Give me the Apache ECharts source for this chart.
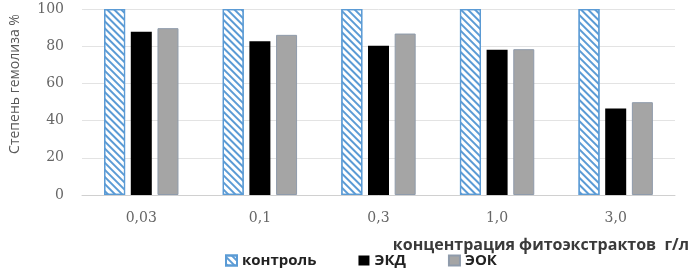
<!DOCTYPE html>
<html><head><meta charset="utf-8">
<script src="https://cdn.jsdelivr.net/npm/echarts@6/dist/echarts.min.js"></script>
<style>html,body{margin:0;padding:0;background:#fff}#c{width:692px;height:269px}</style>
</head><body><div id="c"></div>
<script>
const categories = ['0,03', '0,1', '0,3', '1,0', '3,0'];
const controlValues = [100, 100, 100, 100, 100];
const ekdValues = [87.8, 82.6, 80.2, 78.1, 46.5];
const eokValues = [89.7, 86.1, 86.8, 78.4, 49.9];
const yTicks = [0, 20, 40, 60, 80, 100];
const seriesNames = ['контроль', 'ЭКД', 'ЭОК'];

const chart = echarts.init(document.getElementById('c'), null, {renderer: 'canvas'});
chart.setOption({
  animation: false,
  grid: {left: 81, right: 17, top: 9, bottom: 74},
  legend: {
    data: seriesNames,
    left: 225, top: 253, padding: 0,
    icon: 'rect',
    itemWidth: 11, itemHeight: 10, itemGap: 42,
    textStyle: {fontFamily: 'Open Sans', fontWeight: 'bold', fontSize: 15, color: '#222'}
  },
  xAxis: {
    type: 'category', data: categories,
    name: 'концентрация фитоэкстрактов  г/л',
    nameLocation: 'end',
    nameGap: 14,
    nameTextStyle: {fontFamily: 'Open Sans', fontWeight: 'bold', fontSize: 16, color: '#3a3a3a',
      align: 'right', verticalAlign: 'top', padding: [42, 0, 0, 0]},
    axisTick: {show: false},
    axisLine: {lineStyle: {color: '#d0d0d0'}},
    axisLabel: {fontFamily: 'DejaVu Serif', fontSize: 14, color: '#666666', margin: 16}
  },
  yAxis: {
    type: 'value', min: 0, max: 100, interval: 20,
    name: 'Степень гемолиза %',
    nameLocation: 'middle', nameGap: 60,
    nameTextStyle: {fontFamily: 'Open Sans', fontSize: 14, color: '#595959', padding: [0, 0, 0, 36]},
    axisLabel: {fontFamily: 'DejaVu Serif', fontSize: 14, color: '#666666', margin: 18,
      formatter: v => yTicks.includes(v) ? String(v) : ''},
    splitLine: {lineStyle: {color: '#e3e3e3'}},
    axisLine: {show: false}, axisTick: {show: false}
  },
  series: [
    {name: seriesNames[0], type: 'bar', data: controlValues, barWidth: 21, barGap: '27%',
     itemStyle: {color: '#ffffff', borderColor: '#5b9bd5', borderWidth: 1.2,
       decal: {symbol: 'rect', color: '#5b9bd5', dashArrayX: [1, 0], dashArrayY: [1.5, 3], rotation: Math.PI / 4}}},
    {name: seriesNames[1], type: 'bar', data: ekdValues, barWidth: 21,
     itemStyle: {color: '#000000'}},
    {name: seriesNames[2], type: 'bar', data: eokValues, barWidth: 21,
     itemStyle: {color: '#a5a5a5', borderColor: '#8f9bab', borderWidth: 1}}
  ]
});
</script></body></html>
